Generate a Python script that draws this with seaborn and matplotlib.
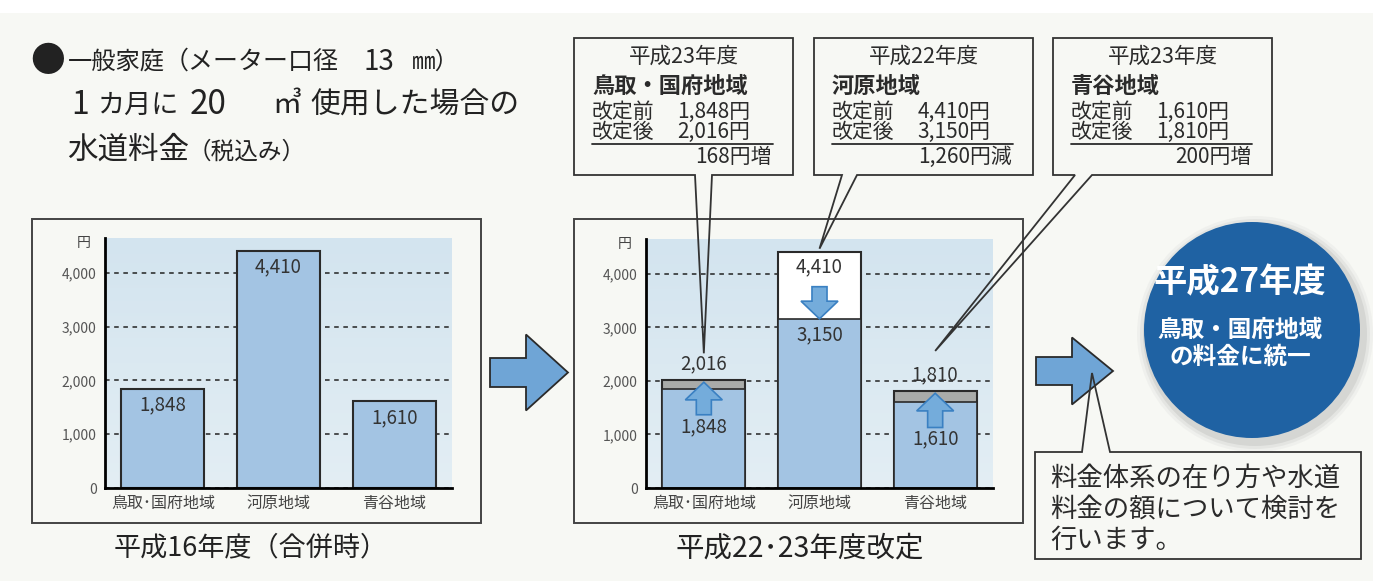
import numpy as np
import matplotlib.pyplot as plt
import seaborn as sns
from matplotlib.colors import LinearSegmentedColormap
from matplotlib.patches import Rectangle, Polygon, Circle, FancyArrow

# ==== 1. Data ====
regions = ["鳥取･国府地域", "河原地域", "青谷地域"]
fee_h16 = [1848, 4410, 1610]          # 平成16年度（合併時）
fee_before = [1848, 4410, 1610]       # 改定前
fee_after = [2016, 3150, 1810]        # 改定後
revision_year = ["平成23年度", "平成22年度", "平成23年度"]
callout_names = ["鳥取・国府地域", "河原地域", "青谷地域"]
y_ticks = [0, 1000, 2000, 3000, 4000]

# ==== 2. Style ====
sns.set_theme(style="white")
plt.rcParams['font.family'] = ['Noto Sans CJK JP', 'DejaVu Sans']

BG = "#f7f8f4"
TXT = "#2b2b2b"
BAR = "#a3c4e3"
GRAY = "#a9aba9"
EDGE = "#2a2a2a"
ARROW_FC = "#74acdb"
ARROW_EC = "#3a80c2"
W, H = 1373, 581
YMAX = 4651

fig = plt.figure(figsize=(W / 100, H / 100), dpi=100, facecolor=BG)


def px_axes(l, t, r, b):
    return fig.add_axes([l / W, 1 - b / H, (r - l) / W, (b - t) / H])


def style_chart(ax):
    grad = np.linspace(0, 1, 256)[:, None]
    cmap = LinearSegmentedColormap.from_list("bg", ["#e3eef4", "#d3e4ef"])
    ax.imshow(grad, extent=[-0.5, 2.5, 0, YMAX], origin="lower",
              aspect="auto", cmap=cmap, zorder=0)
    ax.set_xlim(-0.5, 2.5)
    ax.set_ylim(0, YMAX)
    ax.set_facecolor("none")
    ax.set_yticks(y_ticks)
    ax.set_yticklabels([f"{t:,}" for t in y_ticks])
    ax.set_axisbelow(True)
    ax.yaxis.grid(True, color="#222222", linestyle=(0, (3, 3)), linewidth=1.1)
    ax.xaxis.grid(False)
    ax.set_xlabel("")
    ax.set_ylabel("")
    for sp in ["top", "right"]:
        ax.spines[sp].set_visible(False)
    for sp in ["left", "bottom"]:
        ax.spines[sp].set_color("black")
        ax.spines[sp].set_linewidth(2)
        ax.spines[sp].set_zorder(6)
    ax.tick_params(axis="y", length=0, pad=6, labelsize=10, labelcolor="#555555")
    ax.tick_params(axis="x", which="major", length=0, pad=5, labelsize=11.5,
                   labelcolor="#444444")
    ax.set_xticks([0.5, 1.5, 2.5], minor=True)
    ax.tick_params(axis="x", which="minor", direction="in", length=5, width=2,
                   color="black")
    ax.text(-0.06, 0.98, "円", transform=ax.transAxes, ha="center", va="center",
            fontsize=10, color="#444444")


# ==== 3. Chart 1: 平成16年度 ====
ax1 = px_axes(105, 238, 452, 488)
sns.barplot(x=regions, y=fee_h16, hue=regions, palette=[BAR] * 3, width=0.72,
            saturation=1, errorbar=None, edgecolor=EDGE, linewidth=1.5,
            legend=False, ax=ax1)
style_chart(ax1)
for i, v in enumerate(fee_h16):
    ax1.text(i, v - 300, f"{v:,}", ha="center", va="center", fontsize=13.5,
             color="#333333", zorder=7)

# ==== 4. Chart 2: 平成22・23年度改定 ====
ax2 = px_axes(646, 239, 993, 488)
top_vals = [max(b, a) for b, a in zip(fee_before, fee_after)]
base_vals = [min(b, a) for b, a in zip(fee_before, fee_after)]
top_colors = [GRAY if a > b else "white" for b, a in zip(fee_before, fee_after)]
sns.barplot(x=regions, y=top_vals, hue=regions, palette=top_colors, width=0.72,
            saturation=1, errorbar=None, edgecolor=EDGE, linewidth=1.5,
            legend=False, ax=ax2)
sns.barplot(x=regions, y=base_vals, hue=regions, palette=[BAR] * 3, width=0.72,
            saturation=1, errorbar=None, edgecolor=EDGE, linewidth=1.2,
            legend=False, ax=ax2)
style_chart(ax2)

for i, (b, a) in enumerate(zip(fee_before, fee_after)):
    if a > b:
        tail, tip = b - 480, a - 40
        ax2.text(i, b - 700, f"{b:,}", ha="center", va="center", fontsize=13.5,
                 color="#333333", zorder=7)
        ax2.text(i, a + 310, f"{a:,}", ha="center", va="center", fontsize=13.5,
                 color="#333333", zorder=7)
    else:
        tail, tip = b - 650, a + 10
        ax2.text(i, b - 280, f"{b:,}", ha="center", va="center", fontsize=13.5,
                 color="#333333", zorder=7)
        ax2.text(i, a - 280, f"{a:,}", ha="center", va="center", fontsize=13.5,
                 color="#333333", zorder=7)
    ax2.add_patch(FancyArrow(i, tail, 0, tip - tail, width=0.13, head_width=0.32,
                             head_length=330, length_includes_head=True,
                             fc=ARROW_FC, ec=ARROW_EC, lw=1.2, zorder=5))

# ==== 5. Overlay (text, boxes, arrows) ====
ov = fig.add_axes([0, 0, 1, 1], zorder=10)
ov.set_xlim(0, W)
ov.set_ylim(H, 0)
ov.axis("off")

ov.add_patch(Rectangle((0, 0), W, 13, fc="white", ec="none"))

# heading (pieces placed like the original's loose typesetting)
HD = "#222222"
ov.text(48, 61, "●", ha="center", va="center", fontsize=25, color=HD)
ov.text(68, 62, "一般家庭", va="center", fontsize=17.5, color=HD)
ov.text(164, 62, "（メーター口径", va="center", fontsize=18, color=HD)
ov.text(364, 62, "13", va="center", fontsize=20, color=HD)
ov.text(412, 62, "㎜）", va="center", fontsize=17, color=HD)
ov.text(71, 105, "1", va="center", fontsize=23, color=HD)
ov.text(97, 105, "カ月に", va="center", fontsize=19.5, color=HD)
ov.text(190, 105, "20", va="center", fontsize=24, color=HD)
ov.text(272, 105, "㎥", va="center", fontsize=21, color=HD)
ov.text(310, 105, "使用した場合の", va="center", fontsize=21.5, color=HD)
ov.text(67, 150, "水道料金", va="center", fontsize=22, color=HD)
ov.text(188, 152, "（税込み）", va="center", fontsize=17, color=HD)

# panel frames + titles
ov.add_patch(Rectangle((32, 219), 449, 304, fill=False, ec="#444444", lw=1.4))
ov.add_patch(Rectangle((574, 219), 449, 304, fill=False, ec="#444444", lw=1.4))
ov.text(251, 548, "平成16年度（合併時）", ha="center", va="center",
        fontsize=19.5, color="#222222")
ov.text(800, 548, "平成22･23年度改定", ha="center", va="center",
        fontsize=20.5, color="#222222")

# callouts
box_left = [574, 814, 1053]
box_w, box_t, box_b = 219, 38, 175
ptr_base = [(121, 138), (28, 43), (22, 39)]
tip_offset = [500, 60, 750]


def data_to_px(ax, x, y):
    dx, dy = ax.transData.transform((x, y))
    return dx, H - dy


for i, (L, (p1, p2)) in enumerate(zip(box_left, ptr_base)):
    R = L + box_w
    tx, ty = data_to_px(ax2, i, top_vals[i] + tip_offset[i])
    poly = [(L, box_t), (R, box_t), (R, box_b), (L + p2, box_b), (tx, ty),
            (L + p1, box_b), (L, box_b)]
    ov.add_patch(Polygon(poly, closed=True, fill=False, ec="#333333", lw=1.3))
    b, a = fee_before[i], fee_after[i]
    d = a - b
    ov.text(L + box_w / 2, 57, revision_year[i], ha="center", va="center",
            fontsize=15.5, color=TXT)
    ov.text(L + 18, 86, callout_names[i], va="center", fontsize=16,
            fontweight="bold", color=TXT)
    ov.text(L + 18, 112, "改定前", va="center", fontsize=15, color=TXT)
    ov.text(L + 176, 112, f"{b:,}円", ha="right", va="center", fontsize=15, color=TXT)
    ov.text(L + 18, 132, "改定後", va="center", fontsize=15, color=TXT)
    ov.text(L + 176, 132, f"{a:,}円", ha="right", va="center", fontsize=15, color=TXT)
    ov.plot([L + 18, R - 20], [144, 144], color=TXT, lw=1.3)
    ov.text(R - 21, 157, f"{abs(d):,}円" + ("増" if d > 0 else "減"), ha="right",
            va="center", fontsize=15, color=TXT)

# big arrows
ov.add_patch(FancyArrow(490, 372.5, 78, 0, width=29, head_width=76, head_length=42,
                        length_includes_head=True, fc="#6fa5d6", ec=EDGE, lw=1.3))
ov.add_patch(FancyArrow(1036, 371, 77, 0, width=28, head_width=67, head_length=41,
                        length_includes_head=True, fc="#6fa5d6", ec=EDGE, lw=1.3))

# circle
for k, al in zip([10, 7, 4], [0.05, 0.08, 0.12]):
    ov.add_patch(Circle((1255, 334), 108 + k, fc="#6b6b6b", ec="none", alpha=al))
ov.add_patch(Circle((1252, 330), 108, fc="#1f62a3", ec="none"))
ov.text(1240, 283, "平成27年度", ha="center", va="center", fontsize=24,
        fontweight="bold", color="white")
ov.text(1240, 330, "鳥取・国府地域", ha="center", va="center", fontsize=17,
        fontweight="bold", color="white")
ov.text(1240, 357, "の料金に統一", ha="center", va="center", fontsize=17,
        fontweight="bold", color="white")

# note box
note = [(1035, 452), (1082, 452), (1092, 373), (1110, 452), (1361, 452),
        (1361, 559), (1035, 559)]
ov.add_patch(Polygon(note, closed=True, fill=False, ec="#333333", lw=1.3))
note_lines = ["料金体系の在り方や水道", "料金の額について検討を", "行います。"]
for y, line in zip([478, 510, 540], note_lines):
    ov.text(1050, y, line, va="center", fontsize=19, color=TXT)

plt.savefig("out.png", dpi=100, facecolor=BG)
